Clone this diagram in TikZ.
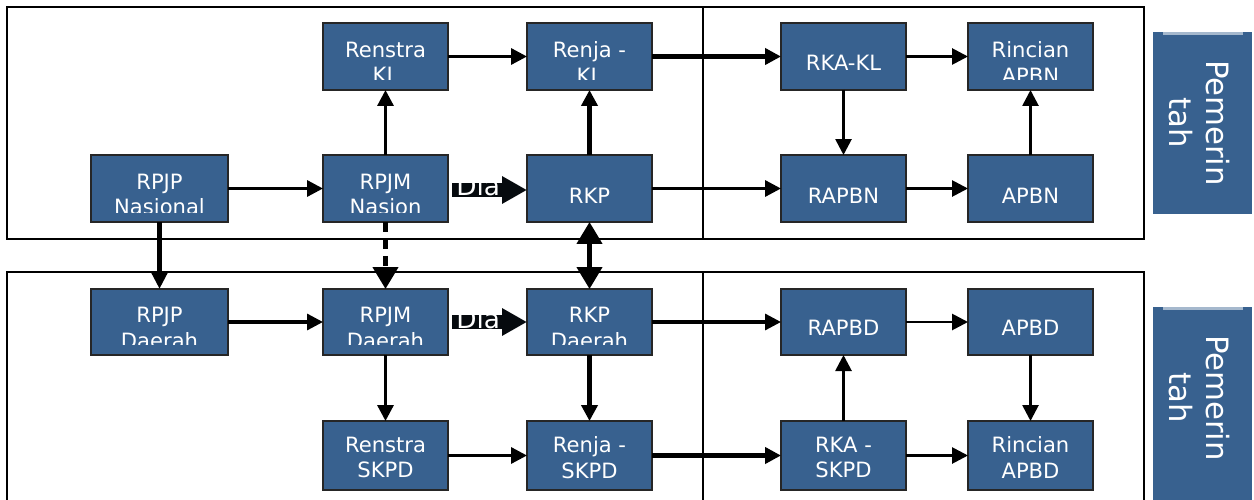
\documentclass[tikz,border=0pt]{standalone}
\usepackage{fontspec}
\setmainfont{DejaVu Sans}
\usetikzlibrary{arrows.meta}
\definecolor{boxblue}{HTML}{38618F}
\tikzset{
  frame/.style={draw=black, line width=0.04cm},
  boxnode/.style={draw=black!85, line width=0.035cm, fill=boxblue, inner sep=0pt, outer sep=0pt},
  boxtext/.style={text=white, align=center, font=\fontsize{12}{14.5}\selectfont, inner sep=0pt},
  arr/.style={draw=black, line width=0.065cm, -{Triangle[length=0.32cm, width=0.32cm]}},
  arrthick/.style={arr, line width=0.09cm},
  arrthin/.style={arr, line width=0.055cm},
  bigtip/.style={-{Triangle[length=0.44cm, width=0.5cm]}},
  diaarrow/.style={draw=black!90!boxblue, line width=0.28cm, -{Triangle[length=0.5cm, width=0.52cm]}},
  diatext/.style={text=white, font=\fontsize{15}{15}\selectfont, inner sep=0pt, anchor=base west},
  sidelabel/.style={fill=boxblue, draw=none},
  sidetext/.style={text=white, rotate=-90, align=center, font=\fontsize{17.5}{21}\selectfont, inner sep=0pt},
}
% name, x1, y1, x2, y2, text offset, clip bottom, text
\newcommand{\bx}[8]{%
  \node[boxnode, minimum width={(#4-#2)*0.02cm}, minimum height={(#5-#3)*0.02cm}] (#1) at ({(#2+#4)/2},{(#3+#5)/2}) {};
  \begin{scope}
    \clip (#2,#3) rectangle (#4,#7);
    \node[boxtext] at ({(#2+#4)/2},{(#3+#5)/2+#6}) {#8};
  \end{scope}}
\begin{document}
\begin{tikzpicture}[x=0.02cm, y=-0.02cm]
\useasboundingbox (0,0) rectangle (1254,500);
% frames
\draw[frame] (7,7) rectangle (1144,239);
\draw[frame] (7,510) -- (7,272) -- (1144,272) -- (1144,510);
\draw[frame] (703,7) -- (703,239);
\draw[frame] (703,272) -- (703,510);
% side labels
\fill[sidelabel] (1153,32) rectangle (1252,214);
\draw[boxblue!45!white, line width=0.05cm] (1163,33.5) -- (1243,33.5);
\node[sidetext] (lab1) at (1199,123) {Pemerin\\tah};
\fill[sidelabel] (1153,307) rectangle (1252,510);
\draw[boxblue!45!white, line width=0.05cm] (1163,308.5) -- (1243,308.5);
\node[sidetext] (lab2) at (1199,398) {Pemerin\\tah};
% row 1
\bx{renstrakl}{323}{23}{448}{90}{6}{80}{Renstra\\KL}
\bx{renjakl}{527}{23}{652}{90}{6}{80}{Renja -\\KL}
\bx{rkakl}{781}{23}{906}{90}{6}{80}{RKA-KL}
\bx{rincianapbn}{968}{23}{1093}{90}{6}{80}{Rincian\\APBN}
% row 2
\bx{rpjpn}{91}{155}{228}{222}{6}{212}{RPJP\\Nasional}
\bx{rpjmn}{323}{155}{448}{222}{6}{212}{RPJM\\Nasion}
\bx{rkp}{527}{155}{652}{222}{7}{212}{RKP}
\bx{rapbn}{781}{155}{906}{222}{7}{212}{RAPBN}
\bx{apbn}{968}{155}{1093}{222}{7}{212}{APBN}
% row 3
\bx{rpjpd}{91}{289}{228}{355}{6}{344}{RPJP\\Daerah}
\bx{rpjmd}{323}{289}{448}{355}{6}{344}{RPJM\\Daerah}
\bx{rkpd}{527}{289}{652}{355}{6}{344}{RKP\\Daerah}
\bx{rapbd}{781}{289}{906}{355}{6}{344}{RAPBD}
\bx{apbd}{968}{289}{1093}{355}{6}{344}{APBD}
% row 4
\bx{renstraskpd}{323}{421}{448}{490}{2}{490}{Renstra\\SKPD}
\bx{renjaskpd}{527}{421}{652}{490}{2}{490}{Renja -\\SKPD}
\bx{rkaskpd}{781}{421}{906}{490}{2}{490}{RKA -\\SKPD}
\bx{rincianapbd}{968}{421}{1093}{490}{2}{490}{Rincian\\APBD}
% connectors, upper part
\draw[arr] (rpjpn.east) -- (rpjmn.west);
\draw[arr] (rpjmn.north) -- (renstrakl.south);
\draw[arr] (renstrakl.east) -- (renjakl.west);
\draw[arrthick] (rkp.north) -- (renjakl.south);
\draw[arrthick] (renjakl.east) -- (rkakl.west);
\draw[arr] (rkp.east) -- (rapbn.west);
\draw[arrthin] (rkakl.south) -- (rapbn.north);
\draw[arrthin] (rkakl.east) -- (rincianapbn.west);
\draw[arrthin] (rapbn.east) -- (apbn.west);
\draw[arrthin] (apbn.north) -- (rincianapbn.south);
\draw[diaarrow] ([xshift=0.08cm, yshift=-0.03cm]rpjmn.east) -- ([yshift=-0.03cm]rkp.west);
\node[diatext] (dia1) at (456,195) {Dia};
% between the frames
\draw[arrthick, -{Triangle[length=0.36cm, width=0.34cm]}] (rpjpn.south) -- (rpjpd.north);
\draw[arrthick, bigtip, dash pattern=on 0.2cm off 0.14cm] (rpjmn.south) -- (rpjmd.north);
\draw[arrthick, {Triangle[length=0.44cm, width=0.5cm]}-{Triangle[length=0.44cm, width=0.5cm]}] (rkp.south) -- (rkpd.north);
% connectors, lower part
\draw[arr] (rpjpd.east) -- (rpjmd.west);
\draw[diaarrow] ([xshift=0.08cm]rpjmd.east) -- (rkpd.west);
\node[diatext] (dia2) at (456,328) {Dia};
\draw[arr] (rkpd.east) -- (rapbd.west);
\draw[arrthin] (rapbd.east) -- (apbd.west);
\draw[arrthin] (apbd.south) -- (rincianapbd.north);
\draw[arrthin] (rkaskpd.north) -- (rapbd.south);
\draw[arrthin] (rkaskpd.east) -- (rincianapbd.west);
\draw[arrthick] (renjaskpd.east) -- (rkaskpd.west);
\draw[arr] (renstraskpd.east) -- (renjaskpd.west);
\draw[arr] (rpjmd.south) -- (renstraskpd.north);
\draw[arrthick] (rkpd.south) -- (renjaskpd.north);
\end{tikzpicture}
\end{document}
